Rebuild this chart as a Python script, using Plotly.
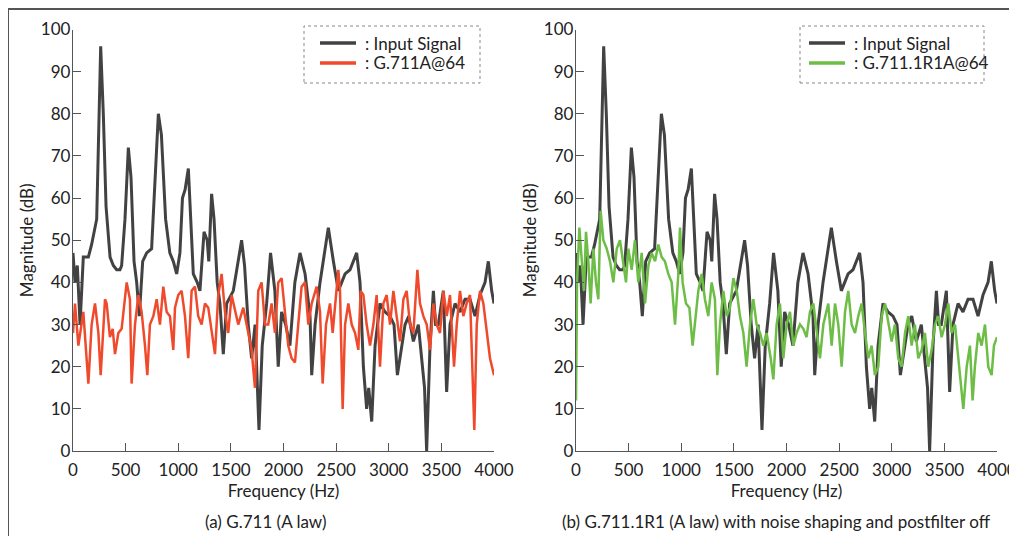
import plotly.graph_objects as go
from plotly.subplots import make_subplots

# input signal spectrum (same in both panels)
input_hz = [0, 19, 41, 67, 98, 146, 177, 225, 263, 288, 314, 352, 383, 415, 446, 462, 494, 526, 551, 580,
            605, 630, 662, 700, 747, 770, 811, 840, 880, 920, 953, 985, 1016, 1040, 1065, 1096, 1115, 1143,
            1180, 1206, 1245, 1275, 1290, 1317, 1340, 1370, 1396, 1428, 1460, 1523, 1602, 1630, 1665, 1697,
            1730, 1767, 1798, 1840, 1877, 1918, 1950, 1982, 2020, 2061, 2108, 2157, 2205, 2252, 2268, 2300,
            2347, 2379, 2426, 2474, 2521, 2553, 2585, 2632, 2695, 2727, 2759, 2790, 2810, 2838, 2870, 2917,
            2965, 3012, 3050, 3082, 3123, 3155, 3190, 3234, 3281, 3313, 3340, 3360, 3392, 3424, 3445, 3471,
            3519, 3550, 3582, 3630, 3677, 3725, 3772, 3820, 3867, 3915, 3946, 3978, 4000]
input_db = [47, 40, 44, 30, 46, 46, 49, 55, 96, 80, 58, 46, 44, 43, 43, 44, 55, 72, 65, 45,
            40, 32, 45, 47, 48, 60, 80, 75, 55, 47, 45, 42, 47, 60, 62, 67, 58, 42,
            40, 38, 52, 50, 45, 61, 55, 40, 35, 23, 35, 38, 50, 44, 30, 22,
            30, 5, 25, 35, 47, 38, 20, 33, 30, 25, 40, 47, 42, 32, 18, 30,
            40, 45, 53, 45, 38, 40, 42, 43, 47, 40, 20, 10, 15, 7, 25, 35,
            33, 32, 30, 18, 25, 30, 32, 26, 30, 22, 15, 0, 25, 38, 30, 30,
            38, 14, 30, 35, 33, 36, 36, 32, 37, 40, 45, 38, 35]

# G.711A@64 output
g711_hz = [0, 19, 51, 98, 146, 177, 209, 241, 263, 304, 320, 351, 377, 399, 431, 462, 510, 541, 557, 589,
           621, 652, 684, 706, 731, 763, 795, 826, 858, 890, 921, 953, 969, 1000, 1032, 1064, 1095, 1127,
           1159, 1190, 1222, 1254, 1285, 1317, 1349, 1380, 1412, 1444, 1475, 1507, 1539, 1570, 1618, 1665,
           1697, 1729, 1760, 1792, 1824, 1855, 1887, 1919, 1950, 1982, 2014, 2045, 2077, 2109, 2140, 2172,
           2204, 2236, 2268, 2315, 2347, 2372, 2404, 2442, 2467, 2521, 2537, 2562, 2585, 2616, 2648, 2680,
           2711, 2733, 2759, 2790, 2822, 2854, 2885, 2917, 2949, 2980, 3012, 3044, 3075, 3107, 3139, 3170,
           3202, 3234, 3272, 3297, 3329, 3361, 3392, 3424, 3456, 3487, 3519, 3551, 3582, 3620, 3646, 3677,
           3709, 3740, 3772, 3813, 3836, 3867, 3899, 3931, 3962, 4000]
g711_db = [28, 35, 25, 33, 16, 30, 35, 28, 18, 36, 35, 27, 29, 23, 28, 29, 40, 36, 16, 30,
           37, 33, 25, 18, 30, 32, 36, 30, 39, 33, 32, 24, 34, 37, 38, 32, 22, 38,
           39, 32, 30, 35, 34, 28, 23, 37, 42, 33, 28, 37, 33, 30, 34, 28,
           24, 15, 38, 40, 30, 30, 35, 28, 40, 41, 32, 25, 22, 21, 30, 39,
           40, 30, 35, 39, 33, 16, 30, 35, 28, 43, 38, 10, 30, 35, 30, 28,
           24, 38, 37, 30, 25, 30, 37, 20, 35, 37, 30, 38, 32, 26, 36, 38,
           30, 28, 43, 35, 32, 30, 24, 35, 30, 28, 38, 32, 37, 20, 30, 38,
           32, 35, 37, 5, 30, 38, 35, 28, 22, 18]

# G.711.1R1A@64 output
r1_hz = [0, 10, 32, 54, 76, 95, 117, 139, 165, 190, 212, 234, 260, 292, 323, 355, 387, 418, 450, 475,
         497, 529, 560, 592, 624, 656, 688, 719, 751, 782, 814, 845, 877, 909, 941, 972, 988, 1013, 1045,
         1077, 1108, 1130, 1162, 1194, 1225, 1257, 1289, 1320, 1343, 1368, 1400, 1432, 1463, 1495, 1527,
         1558, 1590, 1621, 1653, 1685, 1716, 1748, 1780, 1811, 1850, 1875, 1906, 1938, 1970, 2001, 2033,
         2065, 2096, 2128, 2160, 2191, 2223, 2255, 2286, 2318, 2350, 2397, 2429, 2461, 2492, 2524, 2556,
         2587, 2619, 2651, 2682, 2714, 2746, 2777, 2809, 2840, 2872, 2904, 2936, 2967, 2999, 3030, 3062,
         3094, 3126, 3157, 3189, 3220, 3252, 3284, 3315, 3347, 3379, 3411, 3442, 3474, 3506, 3537, 3569,
         3601, 3632, 3680, 3712, 3743, 3768, 3790, 3822, 3854, 3886, 3917, 3949, 3971, 4000]
r1_db = [12, 40, 53, 45, 38, 52, 45, 35, 48, 40, 36, 57, 50, 48, 45, 40, 48, 50, 45, 40,
         48, 43, 50, 40, 47, 35, 44, 47, 45, 49, 46, 45, 42, 40, 30, 42, 53, 40, 35,
         34, 25, 30, 38, 42, 36, 32, 40, 36, 18, 30, 38, 32, 34, 41, 38,
         32, 28, 20, 30, 36, 30, 28, 25, 28, 22, 17, 30, 35, 22, 30, 33,
         25, 28, 30, 29, 27, 33, 35, 28, 22, 30, 35, 25, 35, 30, 20, 33,
         38, 30, 28, 32, 35, 28, 22, 25, 18, 20, 32, 35, 30, 26, 30, 22,
         20, 28, 32, 25, 30, 22, 24, 28, 20, 24, 30, 32, 27, 30, 35, 28,
         30, 22, 10, 20, 25, 12, 20, 28, 25, 30, 20, 18, 25, 27]

xticks = [0, 500, 1000, 1500, 2000, 2500, 3000, 3500, 4000]
yticks = [0, 10, 20, 30, 40, 50, 60, 70, 80, 90, 100]

# the page puts the plot 8px in from the top-left corner
W, H = 1009, 528
OFF = 8


def xp(px):
    return (px - OFF) / W


def yp(py):
    return 1 - (py - OFF) / H


font = 'Lato, "Open Sans", sans-serif'
txt = '#222'
black = 'rgba(45,45,45,0.9)'
red = '#f04a2c'
green = '#6dbd47'

fig = make_subplots(rows=1, cols=2)

fig.add_trace(go.Scatter(x=input_hz, y=input_db, mode='lines', name='Input Signal',
                         line=dict(color=black, width=3)), row=1, col=1)
fig.add_trace(go.Scatter(x=g711_hz, y=g711_db, mode='lines', name='G.711A@64',
                         line=dict(color=red, width=2.5)), row=1, col=1)
fig.add_trace(go.Scatter(x=input_hz, y=input_db, mode='lines', name='Input Signal',
                         line=dict(color=black, width=3)), row=1, col=2)
fig.add_trace(go.Scatter(x=r1_hz, y=r1_db, mode='lines', name='G.711.1R1A@64',
                         line=dict(color=green, width=2.5)), row=1, col=2)

axcommon = dict(showline=True, linecolor='#555', linewidth=1.3, ticks='inside', ticklen=8,
                tickcolor='#555', showgrid=False, zeroline=False, automargin=False,
                tickfont=dict(size=17, color=txt, family=font))
fig.update_xaxes(range=[0, 4000], tickvals=xticks, ticklabelstandoff=3,
                 title=dict(text='Frequency (Hz)', font=dict(size=17, color=txt, family=font), standoff=4),
                 **axcommon)
fig.update_yaxes(range=[0, 100], tickvals=yticks, domain=[yp(451), yp(29.5)], ticklabelstandoff=-2,
                 title=dict(text='Magnitude (dB)', font=dict(size=17, color=txt, family=font), standoff=2),
                 **axcommon)
fig.update_layout(xaxis=dict(domain=[xp(73), xp(494)]), xaxis2=dict(domain=[xp(576), xp(997)]))

shapes = [
    # outer frame (top and left edges)
    dict(type='line', xref='paper', yref='paper', x0=xp(8), x1=1, y0=yp(9), y1=yp(9),
         line=dict(color='#555', width=2)),
    dict(type='line', xref='paper', yref='paper', x0=xp(8), x1=xp(8), y0=0, y1=yp(9),
         line=dict(color='#555', width=2)),
    # dotted legend boxes
    dict(type='rect', xref='paper', yref='paper', x0=xp(304), x1=xp(480), y0=yp(83), y1=yp(26),
         line=dict(color='#888', width=1, dash='dot')),
    dict(type='rect', xref='paper', yref='paper', x0=xp(800), x1=xp(984), y0=yp(83), y1=yp(26),
         line=dict(color='#888', width=1, dash='dot')),
]

annotations = [
    dict(text='(a) G.711 (A law)', x=xp(265), y=yp(521), xanchor='center', yanchor='middle'),
    dict(text='(b) G.711.1R1 (A law) with noise shaping and postfilter off', x=xp(776), y=yp(521),
         xanchor='center', yanchor='middle'),
]

# legend boxes drawn by hand: sample line + label
legend_rows = [
    (320, 43, black, ': Input Signal'),
    (320, 63, red, ': G.711A@64'),
    (809, 43, black, ': Input Signal'),
    (809, 63, green, ': G.711.1R1A@64'),
]
for lx, ly, col, label in legend_rows:
    shapes.append(dict(type='line', xref='paper', yref='paper', x0=xp(lx), x1=xp(lx + 36),
                       y0=yp(ly), y1=yp(ly), line=dict(color=col, width=3.5)))
    annotations.append(dict(text=label, x=xp(lx + 43), y=yp(ly), xanchor='left', yanchor='middle'))

for a in annotations:
    a.update(xref='paper', yref='paper', showarrow=False, font=dict(size=17, color=txt, family=font))

fig.update_layout(width=W, height=H, margin=dict(l=0, r=0, t=0, b=0),
                  paper_bgcolor='white', plot_bgcolor='white', showlegend=False,
                  shapes=shapes, annotations=annotations)

fig.write_html("out.html")
